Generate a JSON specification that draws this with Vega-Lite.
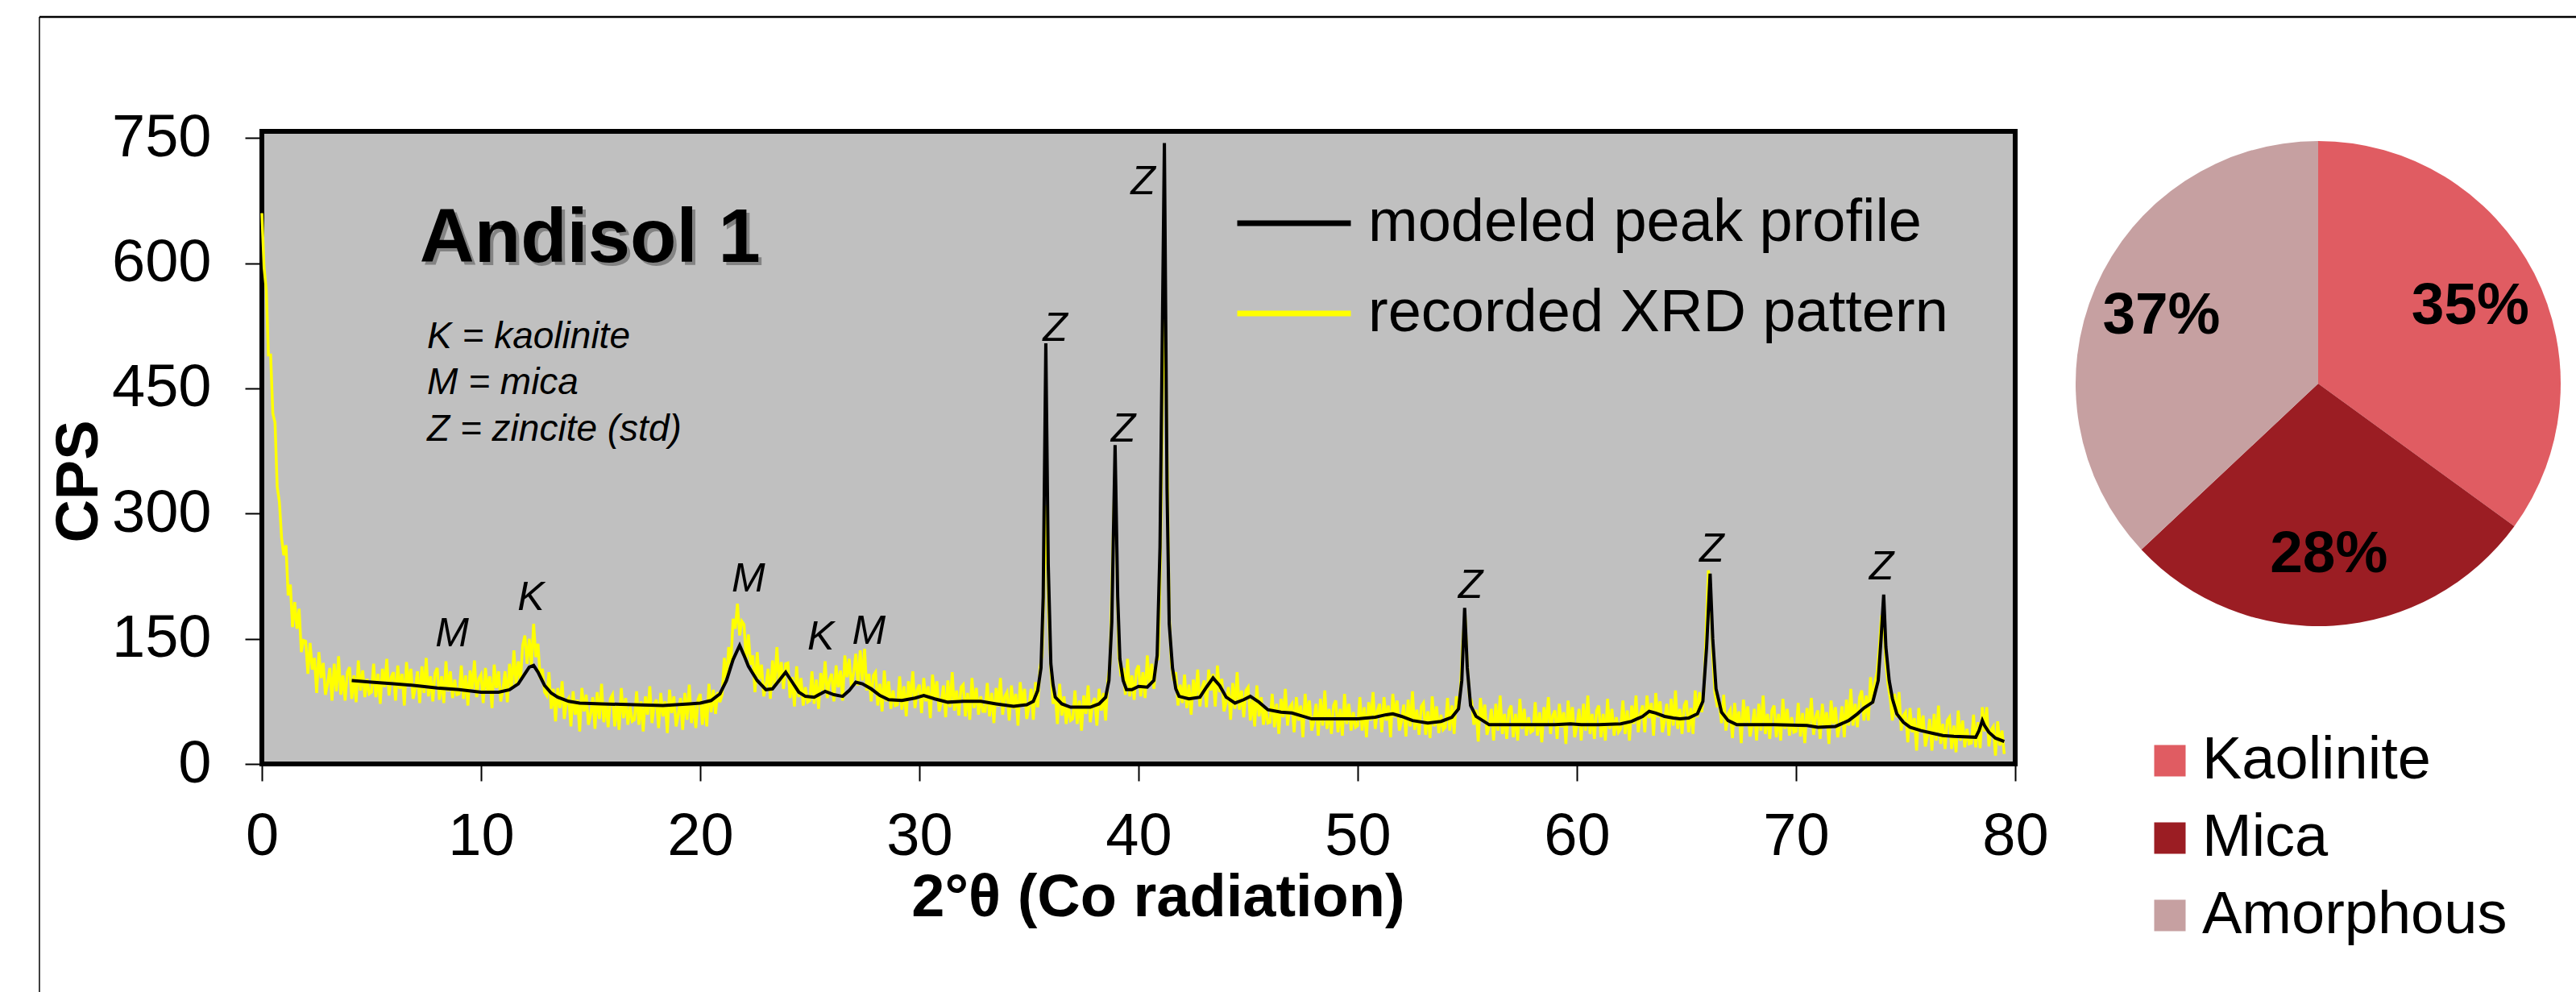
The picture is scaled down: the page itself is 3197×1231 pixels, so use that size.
{
"$schema": "https://vega.github.io/schema/vega-lite/v6.json",
"padding": {"left": 44, "top": 16, "right": 0, "bottom": 0},
"background": "white",
"bounds": "flush",
"spacing": 75,
"config": {
  "font": "Liberation Sans",
  "axis": {"labelFont": "Liberation Sans", "labelFontSize": 74, "labelColor": "black", "tickColor": "black", "tickWidth": 2, "tickSize": 21, "domain": false, "grid": false, "titleFont": "Liberation Sans", "titleFontSize": 74, "titleFontWeight": "bold", "titleColor": "black", "labelOverlap": false, "labelFlush": false},
  "legend": {"labelFont": "Liberation Sans", "labelFontSize": 74, "labelColor": "black", "padding": 0, "labelLimit": 2000}
},
"datasets": {
"recorded": [
{"deg":0.0,"cps":660},{"deg":0.1,"cps":595},{"deg":0.2,"cps":568},{"deg":0.3,"cps":490},{"deg":0.4,"cps":490},{"deg":0.5,"cps":420},{"deg":0.6,"cps":409},{"deg":0.7,"cps":332},{"deg":0.8,"cps":314},{"deg":0.9,"cps":271},
{"deg":1.0,"cps":250},{"deg":1.1,"cps":262},{"deg":1.2,"cps":202},{"deg":1.3,"cps":215},{"deg":1.4,"cps":164},{"deg":1.5,"cps":194},{"deg":1.6,"cps":162},{"deg":1.7,"cps":186},{"deg":1.8,"cps":134},{"deg":1.9,"cps":148},
{"deg":2.0,"cps":147},{"deg":2.1,"cps":108},{"deg":2.2,"cps":145},{"deg":2.3,"cps":113},{"deg":2.4,"cps":127},{"deg":2.5,"cps":85},{"deg":2.6,"cps":134},{"deg":2.7,"cps":103},{"deg":2.8,"cps":121},{"deg":2.9,"cps":83},
{"deg":3.0,"cps":96},{"deg":3.1,"cps":115},{"deg":3.2,"cps":76},{"deg":3.3,"cps":120},{"deg":3.4,"cps":87},{"deg":3.5,"cps":129},{"deg":3.6,"cps":83},{"deg":3.7,"cps":106},{"deg":3.8,"cps":76},{"deg":3.9,"cps":110},
{"deg":4.0,"cps":116},{"deg":4.1,"cps":78},{"deg":4.2,"cps":106},{"deg":4.3,"cps":74},{"deg":4.4,"cps":124},{"deg":4.5,"cps":88},{"deg":4.6,"cps":112},{"deg":4.7,"cps":80},{"deg":4.8,"cps":102},{"deg":4.9,"cps":84},
{"deg":5.0,"cps":86},{"deg":5.1,"cps":120},{"deg":5.2,"cps":80},{"deg":5.3,"cps":108},{"deg":5.4,"cps":72},{"deg":5.5,"cps":114},{"deg":5.6,"cps":92},{"deg":5.7,"cps":126},{"deg":5.8,"cps":82},{"deg":5.9,"cps":104},
{"deg":6.0,"cps":110},{"deg":6.1,"cps":76},{"deg":6.2,"cps":118},{"deg":6.3,"cps":90},{"deg":6.4,"cps":108},{"deg":6.5,"cps":70},{"deg":6.6,"cps":122},{"deg":6.7,"cps":94},{"deg":6.8,"cps":114},{"deg":6.9,"cps":78},
{"deg":7.0,"cps":91},{"deg":7.1,"cps":111},{"deg":7.2,"cps":73},{"deg":7.3,"cps":117},{"deg":7.4,"cps":85},{"deg":7.5,"cps":127},{"deg":7.6,"cps":81},{"deg":7.7,"cps":105},{"deg":7.8,"cps":75},{"deg":7.9,"cps":109},
{"deg":8.0,"cps":115},{"deg":8.1,"cps":77},{"deg":8.2,"cps":105},{"deg":8.3,"cps":73},{"deg":8.4,"cps":123},{"deg":8.5,"cps":87},{"deg":8.6,"cps":111},{"deg":8.7,"cps":79},{"deg":8.8,"cps":101},{"deg":8.9,"cps":83},
{"deg":9.0,"cps":84},{"deg":9.1,"cps":118},{"deg":9.2,"cps":78},{"deg":9.3,"cps":106},{"deg":9.4,"cps":70},{"deg":9.5,"cps":112},{"deg":9.6,"cps":90},{"deg":9.7,"cps":124},{"deg":9.8,"cps":80},{"deg":9.9,"cps":102},
{"deg":10.0,"cps":107},{"deg":10.1,"cps":73},{"deg":10.2,"cps":115},{"deg":10.3,"cps":87},{"deg":10.4,"cps":105},{"deg":10.5,"cps":67},{"deg":10.6,"cps":119},{"deg":10.7,"cps":91},{"deg":10.8,"cps":111},{"deg":10.9,"cps":75},
{"deg":11.0,"cps":90},{"deg":11.1,"cps":111},{"deg":11.2,"cps":74},{"deg":11.3,"cps":120},{"deg":11.4,"cps":91},{"deg":11.5,"cps":136},{"deg":11.6,"cps":94},{"deg":11.7,"cps":123},{"deg":11.8,"cps":100},{"deg":11.9,"cps":142},
{"deg":12.0,"cps":154},{"deg":12.1,"cps":120},{"deg":12.2,"cps":150},{"deg":12.3,"cps":119},{"deg":12.4,"cps":168},{"deg":12.5,"cps":128},{"deg":12.6,"cps":144},{"deg":12.7,"cps":102},{"deg":12.8,"cps":114},{"deg":12.9,"cps":86},
{"deg":13.0,"cps":82},{"deg":13.1,"cps":110},{"deg":13.2,"cps":66},{"deg":13.3,"cps":90},{"deg":13.4,"cps":51},{"deg":13.5,"cps":91},{"deg":13.6,"cps":67},{"deg":13.7,"cps":99},{"deg":13.8,"cps":54},{"deg":13.9,"cps":75},
{"deg":14.0,"cps":79},{"deg":14.1,"cps":45},{"deg":14.2,"cps":87},{"deg":14.3,"cps":59},{"deg":14.4,"cps":77},{"deg":14.5,"cps":39},{"deg":14.6,"cps":91},{"deg":14.7,"cps":63},{"deg":14.8,"cps":83},{"deg":14.9,"cps":47},
{"deg":15.0,"cps":60},{"deg":15.1,"cps":80},{"deg":15.2,"cps":42},{"deg":15.3,"cps":86},{"deg":15.4,"cps":54},{"deg":15.5,"cps":96},{"deg":15.6,"cps":50},{"deg":15.7,"cps":74},{"deg":15.8,"cps":44},{"deg":15.9,"cps":78},
{"deg":16.0,"cps":83},{"deg":16.1,"cps":45},{"deg":16.2,"cps":73},{"deg":16.3,"cps":41},{"deg":16.4,"cps":91},{"deg":16.5,"cps":55},{"deg":16.6,"cps":79},{"deg":16.7,"cps":47},{"deg":16.8,"cps":69},{"deg":16.9,"cps":51},
{"deg":17.0,"cps":53},{"deg":17.1,"cps":87},{"deg":17.2,"cps":47},{"deg":17.3,"cps":75},{"deg":17.4,"cps":39},{"deg":17.5,"cps":81},{"deg":17.6,"cps":59},{"deg":17.7,"cps":93},{"deg":17.8,"cps":49},{"deg":17.9,"cps":71},
{"deg":18.0,"cps":77},{"deg":18.1,"cps":43},{"deg":18.2,"cps":85},{"deg":18.3,"cps":57},{"deg":18.4,"cps":75},{"deg":18.5,"cps":37},{"deg":18.6,"cps":89},{"deg":18.7,"cps":61},{"deg":18.8,"cps":81},{"deg":18.9,"cps":45},
{"deg":19.0,"cps":59},{"deg":19.1,"cps":79},{"deg":19.2,"cps":41},{"deg":19.3,"cps":85},{"deg":19.4,"cps":53},{"deg":19.5,"cps":95},{"deg":19.6,"cps":49},{"deg":19.7,"cps":73},{"deg":19.8,"cps":43},{"deg":19.9,"cps":77},
{"deg":20.0,"cps":84},{"deg":20.1,"cps":47},{"deg":20.2,"cps":76},{"deg":20.3,"cps":45},{"deg":20.4,"cps":96},{"deg":20.5,"cps":62},{"deg":20.6,"cps":89},{"deg":20.7,"cps":60},{"deg":20.8,"cps":86},{"deg":20.9,"cps":74},
{"deg":21.0,"cps":83},{"deg":21.1,"cps":127},{"deg":21.2,"cps":100},{"deg":21.3,"cps":140},{"deg":21.4,"cps":119},{"deg":21.5,"cps":174},{"deg":21.6,"cps":162},{"deg":21.7,"cps":192},{"deg":21.8,"cps":154},{"deg":21.9,"cps":171},
{"deg":22.0,"cps":167},{"deg":22.1,"cps":123},{"deg":22.2,"cps":155},{"deg":22.3,"cps":119},{"deg":22.4,"cps":130},{"deg":22.5,"cps":86},{"deg":22.6,"cps":134},{"deg":22.7,"cps":102},{"deg":22.8,"cps":119},{"deg":22.9,"cps":81},
{"deg":23.0,"cps":94},{"deg":23.1,"cps":114},{"deg":23.2,"cps":78},{"deg":23.3,"cps":124},{"deg":23.4,"cps":95},{"deg":23.5,"cps":140},{"deg":23.6,"cps":97},{"deg":23.7,"cps":122},{"deg":23.8,"cps":90},{"deg":23.9,"cps":120},
{"deg":24.0,"cps":121},{"deg":24.1,"cps":79},{"deg":24.2,"cps":104},{"deg":24.3,"cps":69},{"deg":24.4,"cps":117},{"deg":24.5,"cps":80},{"deg":24.6,"cps":103},{"deg":24.7,"cps":70},{"deg":24.8,"cps":92},{"deg":24.9,"cps":74},
{"deg":25.0,"cps":76},{"deg":25.1,"cps":111},{"deg":25.2,"cps":72},{"deg":25.3,"cps":101},{"deg":25.4,"cps":66},{"deg":25.5,"cps":109},{"deg":25.6,"cps":88},{"deg":25.7,"cps":123},{"deg":25.8,"cps":79},{"deg":25.9,"cps":101},
{"deg":26.0,"cps":108},{"deg":26.1,"cps":75},{"deg":26.2,"cps":118},{"deg":26.3,"cps":92},{"deg":26.4,"cps":112},{"deg":26.5,"cps":76},{"deg":26.6,"cps":130},{"deg":26.7,"cps":104},{"deg":26.8,"cps":126},{"deg":26.9,"cps":92},
{"deg":27.0,"cps":109},{"deg":27.1,"cps":132},{"deg":27.2,"cps":94},{"deg":27.3,"cps":136},{"deg":27.4,"cps":100},{"deg":27.5,"cps":138},{"deg":27.6,"cps":88},{"deg":27.7,"cps":108},{"deg":27.8,"cps":75},{"deg":27.9,"cps":106},
{"deg":28.0,"cps":110},{"deg":28.1,"cps":70},{"deg":28.2,"cps":96},{"deg":28.3,"cps":63},{"deg":28.4,"cps":112},{"deg":28.5,"cps":75},{"deg":28.6,"cps":99},{"deg":28.7,"cps":66},{"deg":28.8,"cps":88},{"deg":28.9,"cps":70},
{"deg":29.0,"cps":71},{"deg":29.1,"cps":105},{"deg":29.2,"cps":65},{"deg":29.3,"cps":93},{"deg":29.4,"cps":57},{"deg":29.5,"cps":99},{"deg":29.6,"cps":77},{"deg":29.7,"cps":111},{"deg":29.8,"cps":67},{"deg":29.9,"cps":89},
{"deg":30.0,"cps":95},{"deg":30.1,"cps":61},{"deg":30.2,"cps":103},{"deg":30.3,"cps":75},{"deg":30.4,"cps":93},{"deg":30.5,"cps":55},{"deg":30.6,"cps":107},{"deg":30.7,"cps":79},{"deg":30.8,"cps":99},{"deg":30.9,"cps":63},
{"deg":31.0,"cps":74},{"deg":31.1,"cps":94},{"deg":31.2,"cps":56},{"deg":31.3,"cps":100},{"deg":31.4,"cps":68},{"deg":31.5,"cps":110},{"deg":31.6,"cps":64},{"deg":31.7,"cps":88},{"deg":31.8,"cps":58},{"deg":31.9,"cps":92},
{"deg":32.0,"cps":95},{"deg":32.1,"cps":57},{"deg":32.2,"cps":85},{"deg":32.3,"cps":53},{"deg":32.4,"cps":103},{"deg":32.5,"cps":67},{"deg":32.6,"cps":91},{"deg":32.7,"cps":59},{"deg":32.8,"cps":81},{"deg":32.9,"cps":63},
{"deg":33.0,"cps":63},{"deg":33.1,"cps":97},{"deg":33.2,"cps":57},{"deg":33.3,"cps":85},{"deg":33.4,"cps":49},{"deg":33.5,"cps":91},{"deg":33.6,"cps":69},{"deg":33.7,"cps":103},{"deg":33.8,"cps":59},{"deg":33.9,"cps":81},
{"deg":34.0,"cps":86},{"deg":34.1,"cps":52},{"deg":34.2,"cps":94},{"deg":34.3,"cps":66},{"deg":34.4,"cps":84},{"deg":34.5,"cps":46},{"deg":34.6,"cps":98},{"deg":34.7,"cps":70},{"deg":34.8,"cps":90},{"deg":34.9,"cps":54},
{"deg":35.0,"cps":69},{"deg":35.1,"cps":90},{"deg":35.2,"cps":53},{"deg":35.3,"cps":98},{"deg":35.4,"cps":68},{"deg":35.5,"cps":115},{"deg":35.6,"cps":130},{"deg":35.7,"cps":230},{"deg":35.8,"cps":310},{"deg":35.9,"cps":180},
{"deg":36.0,"cps":115},{"deg":36.1,"cps":72},{"deg":36.2,"cps":83},{"deg":36.3,"cps":48},{"deg":36.4,"cps":96},{"deg":36.5,"cps":58},{"deg":36.6,"cps":81},{"deg":36.7,"cps":48},{"deg":36.8,"cps":70},{"deg":36.9,"cps":52},
{"deg":37.0,"cps":54},{"deg":37.1,"cps":88},{"deg":37.2,"cps":48},{"deg":37.3,"cps":76},{"deg":37.4,"cps":40},{"deg":37.5,"cps":82},{"deg":37.6,"cps":60},{"deg":37.7,"cps":94},{"deg":37.8,"cps":50},{"deg":37.9,"cps":72},
{"deg":38.0,"cps":79},{"deg":38.1,"cps":46},{"deg":38.2,"cps":90},{"deg":38.3,"cps":64},{"deg":38.4,"cps":85},{"deg":38.5,"cps":52},{"deg":38.6,"cps":100},{"deg":38.7,"cps":120},{"deg":38.8,"cps":230},{"deg":38.9,"cps":330},
{"deg":39.0,"cps":260},{"deg":39.1,"cps":130},{"deg":39.2,"cps":105},{"deg":39.3,"cps":115},{"deg":39.4,"cps":83},{"deg":39.5,"cps":126},{"deg":39.6,"cps":81},{"deg":39.7,"cps":106},{"deg":39.8,"cps":77},{"deg":39.9,"cps":112},
{"deg":40.0,"cps":118},{"deg":40.1,"cps":81},{"deg":40.2,"cps":110},{"deg":40.3,"cps":79},{"deg":40.4,"cps":130},{"deg":40.5,"cps":95},{"deg":40.6,"cps":120},{"deg":40.7,"cps":90},{"deg":40.8,"cps":124},{"deg":40.9,"cps":126},
{"deg":41.0,"cps":250},{"deg":41.1,"cps":450},{"deg":41.2,"cps":565},{"deg":41.3,"cps":380},{"deg":41.4,"cps":180},{"deg":41.5,"cps":120},{"deg":41.6,"cps":100},{"deg":41.7,"cps":110},{"deg":41.8,"cps":70},{"deg":41.9,"cps":95},
{"deg":42.0,"cps":73},{"deg":42.1,"cps":107},{"deg":42.2,"cps":67},{"deg":42.3,"cps":95},{"deg":42.4,"cps":59},{"deg":42.5,"cps":101},{"deg":42.6,"cps":79},{"deg":42.7,"cps":113},{"deg":42.8,"cps":69},{"deg":42.9,"cps":91},
{"deg":43.0,"cps":100},{"deg":43.1,"cps":68},{"deg":43.2,"cps":113},{"deg":43.3,"cps":88},{"deg":43.4,"cps":108},{"deg":43.5,"cps":69},{"deg":43.6,"cps":118},{"deg":43.7,"cps":86},{"deg":43.8,"cps":102},{"deg":43.9,"cps":63},
{"deg":44.0,"cps":74},{"deg":44.1,"cps":92},{"deg":44.2,"cps":53},{"deg":44.3,"cps":97},{"deg":44.4,"cps":66},{"deg":44.5,"cps":110},{"deg":44.6,"cps":65},{"deg":44.7,"cps":88},{"deg":44.8,"cps":56},{"deg":44.9,"cps":88},
{"deg":45.0,"cps":92},{"deg":45.1,"cps":52},{"deg":45.2,"cps":78},{"deg":45.3,"cps":45},{"deg":45.4,"cps":94},{"deg":45.5,"cps":57},{"deg":45.6,"cps":80},{"deg":45.7,"cps":47},{"deg":45.8,"cps":68},{"deg":45.9,"cps":49},
{"deg":46.0,"cps":50},{"deg":46.1,"cps":84},{"deg":46.2,"cps":44},{"deg":46.3,"cps":72},{"deg":46.4,"cps":36},{"deg":46.5,"cps":78},{"deg":46.6,"cps":56},{"deg":46.7,"cps":90},{"deg":46.8,"cps":46},{"deg":46.9,"cps":68},
{"deg":47.0,"cps":72},{"deg":47.1,"cps":38},{"deg":47.2,"cps":80},{"deg":47.3,"cps":52},{"deg":47.4,"cps":70},{"deg":47.5,"cps":32},{"deg":47.6,"cps":84},{"deg":47.7,"cps":56},{"deg":47.8,"cps":76},{"deg":47.9,"cps":40},
{"deg":48.0,"cps":52},{"deg":48.1,"cps":72},{"deg":48.2,"cps":34},{"deg":48.3,"cps":78},{"deg":48.4,"cps":46},{"deg":48.5,"cps":88},{"deg":48.6,"cps":42},{"deg":48.7,"cps":66},{"deg":48.8,"cps":36},{"deg":48.9,"cps":70},
{"deg":49.0,"cps":76},{"deg":49.1,"cps":38},{"deg":49.2,"cps":66},{"deg":49.3,"cps":34},{"deg":49.4,"cps":84},{"deg":49.5,"cps":48},{"deg":49.6,"cps":72},{"deg":49.7,"cps":40},{"deg":49.8,"cps":62},{"deg":49.9,"cps":44},
{"deg":50.0,"cps":46},{"deg":50.1,"cps":80},{"deg":50.2,"cps":40},{"deg":50.3,"cps":68},{"deg":50.4,"cps":32},{"deg":50.5,"cps":74},{"deg":50.6,"cps":52},{"deg":50.7,"cps":86},{"deg":50.8,"cps":42},{"deg":50.9,"cps":64},
{"deg":51.0,"cps":72},{"deg":51.1,"cps":38},{"deg":51.2,"cps":80},{"deg":51.3,"cps":52},{"deg":51.4,"cps":70},{"deg":51.5,"cps":32},{"deg":51.6,"cps":84},{"deg":51.7,"cps":56},{"deg":51.8,"cps":76},{"deg":51.9,"cps":40},
{"deg":52.0,"cps":51},{"deg":52.1,"cps":71},{"deg":52.2,"cps":33},{"deg":52.3,"cps":77},{"deg":52.4,"cps":45},{"deg":52.5,"cps":87},{"deg":52.6,"cps":41},{"deg":52.7,"cps":65},{"deg":52.8,"cps":35},{"deg":52.9,"cps":69},
{"deg":53.0,"cps":73},{"deg":53.1,"cps":35},{"deg":53.2,"cps":63},{"deg":53.3,"cps":31},{"deg":53.4,"cps":81},{"deg":53.5,"cps":45},{"deg":53.6,"cps":69},{"deg":53.7,"cps":37},{"deg":53.8,"cps":59},{"deg":53.9,"cps":41},
{"deg":54.0,"cps":44},{"deg":54.1,"cps":79},{"deg":54.2,"cps":40},{"deg":54.3,"cps":70},{"deg":54.4,"cps":36},{"deg":54.5,"cps":81},{"deg":54.6,"cps":64},{"deg":54.7,"cps":95},{"deg":54.8,"cps":150},{"deg":54.9,"cps":178},
{"deg":55.0,"cps":120},{"deg":55.1,"cps":80},{"deg":55.2,"cps":75},{"deg":55.3,"cps":47},{"deg":55.4,"cps":65},{"deg":55.5,"cps":27},{"deg":55.6,"cps":79},{"deg":55.7,"cps":51},{"deg":55.8,"cps":71},{"deg":55.9,"cps":35},
{"deg":56.0,"cps":46},{"deg":56.1,"cps":66},{"deg":56.2,"cps":28},{"deg":56.3,"cps":72},{"deg":56.4,"cps":40},{"deg":56.5,"cps":82},{"deg":56.6,"cps":36},{"deg":56.7,"cps":60},{"deg":56.8,"cps":30},{"deg":56.9,"cps":64},
{"deg":57.0,"cps":70},{"deg":57.1,"cps":32},{"deg":57.2,"cps":60},{"deg":57.3,"cps":28},{"deg":57.4,"cps":78},{"deg":57.5,"cps":42},{"deg":57.6,"cps":66},{"deg":57.7,"cps":34},{"deg":57.8,"cps":56},{"deg":57.9,"cps":38},
{"deg":58.0,"cps":40},{"deg":58.1,"cps":74},{"deg":58.2,"cps":34},{"deg":58.3,"cps":62},{"deg":58.4,"cps":26},{"deg":58.5,"cps":68},{"deg":58.6,"cps":46},{"deg":58.7,"cps":80},{"deg":58.8,"cps":36},{"deg":58.9,"cps":58},
{"deg":59.0,"cps":64},{"deg":59.1,"cps":30},{"deg":59.2,"cps":72},{"deg":59.3,"cps":44},{"deg":59.4,"cps":62},{"deg":59.5,"cps":24},{"deg":59.6,"cps":76},{"deg":59.7,"cps":48},{"deg":59.8,"cps":68},{"deg":59.9,"cps":32},
{"deg":60.0,"cps":46},{"deg":60.1,"cps":66},{"deg":60.2,"cps":28},{"deg":60.3,"cps":72},{"deg":60.4,"cps":40},{"deg":60.5,"cps":82},{"deg":60.6,"cps":36},{"deg":60.7,"cps":60},{"deg":60.8,"cps":30},{"deg":60.9,"cps":64},
{"deg":61.0,"cps":70},{"deg":61.1,"cps":32},{"deg":61.2,"cps":60},{"deg":61.3,"cps":28},{"deg":61.4,"cps":78},{"deg":61.5,"cps":42},{"deg":61.6,"cps":66},{"deg":61.7,"cps":34},{"deg":61.8,"cps":56},{"deg":61.9,"cps":38},
{"deg":62.0,"cps":42},{"deg":62.1,"cps":76},{"deg":62.2,"cps":36},{"deg":62.3,"cps":64},{"deg":62.4,"cps":28},{"deg":62.5,"cps":70},{"deg":62.6,"cps":48},{"deg":62.7,"cps":82},{"deg":62.8,"cps":38},{"deg":62.9,"cps":60},
{"deg":63.0,"cps":70},{"deg":63.1,"cps":38},{"deg":63.2,"cps":82},{"deg":63.3,"cps":55},{"deg":63.4,"cps":73},{"deg":63.5,"cps":34},{"deg":63.6,"cps":85},{"deg":63.7,"cps":56},{"deg":63.8,"cps":75},{"deg":63.9,"cps":38},
{"deg":64.0,"cps":52},{"deg":64.1,"cps":72},{"deg":64.2,"cps":34},{"deg":64.3,"cps":78},{"deg":64.4,"cps":46},{"deg":64.5,"cps":88},{"deg":64.6,"cps":42},{"deg":64.7,"cps":66},{"deg":64.8,"cps":36},{"deg":64.9,"cps":70},
{"deg":65.0,"cps":76},{"deg":65.1,"cps":38},{"deg":65.2,"cps":67},{"deg":65.3,"cps":36},{"deg":65.4,"cps":88},{"deg":65.5,"cps":56},{"deg":65.6,"cps":86},{"deg":65.7,"cps":62},{"deg":65.8,"cps":90},{"deg":65.9,"cps":160},
{"deg":66.0,"cps":232},{"deg":66.1,"cps":210},{"deg":66.2,"cps":130},{"deg":66.3,"cps":85},{"deg":66.4,"cps":70},{"deg":66.5,"cps":72},{"deg":66.6,"cps":49},{"deg":66.7,"cps":83},{"deg":66.8,"cps":40},{"deg":66.9,"cps":60},
{"deg":67.0,"cps":65},{"deg":67.1,"cps":31},{"deg":67.2,"cps":73},{"deg":67.3,"cps":45},{"deg":67.4,"cps":63},{"deg":67.5,"cps":25},{"deg":67.6,"cps":77},{"deg":67.7,"cps":49},{"deg":67.8,"cps":69},{"deg":67.9,"cps":33},
{"deg":68.0,"cps":46},{"deg":68.1,"cps":66},{"deg":68.2,"cps":28},{"deg":68.3,"cps":72},{"deg":68.4,"cps":40},{"deg":68.5,"cps":82},{"deg":68.6,"cps":36},{"deg":68.7,"cps":60},{"deg":68.8,"cps":30},{"deg":68.9,"cps":64},
{"deg":69.0,"cps":70},{"deg":69.1,"cps":32},{"deg":69.2,"cps":60},{"deg":69.3,"cps":28},{"deg":69.4,"cps":78},{"deg":69.5,"cps":42},{"deg":69.6,"cps":66},{"deg":69.7,"cps":34},{"deg":69.8,"cps":56},{"deg":69.9,"cps":38},
{"deg":70.0,"cps":39},{"deg":70.1,"cps":73},{"deg":70.2,"cps":33},{"deg":70.3,"cps":61},{"deg":70.4,"cps":25},{"deg":70.5,"cps":67},{"deg":70.6,"cps":45},{"deg":70.7,"cps":79},{"deg":70.8,"cps":35},{"deg":70.9,"cps":57},
{"deg":71.0,"cps":64},{"deg":71.1,"cps":30},{"deg":71.2,"cps":72},{"deg":71.3,"cps":44},{"deg":71.4,"cps":62},{"deg":71.5,"cps":24},{"deg":71.6,"cps":76},{"deg":71.7,"cps":48},{"deg":71.8,"cps":68},{"deg":71.9,"cps":32},
{"deg":72.0,"cps":48},{"deg":72.1,"cps":69},{"deg":72.2,"cps":32},{"deg":72.3,"cps":77},{"deg":72.4,"cps":46},{"deg":72.5,"cps":90},{"deg":72.6,"cps":46},{"deg":72.7,"cps":72},{"deg":72.8,"cps":44},{"deg":72.9,"cps":80},
{"deg":73.0,"cps":88},{"deg":73.1,"cps":52},{"deg":73.2,"cps":82},{"deg":73.3,"cps":52},{"deg":73.4,"cps":104},{"deg":73.5,"cps":72},{"deg":73.6,"cps":98},{"deg":73.7,"cps":110},{"deg":73.8,"cps":140},{"deg":73.9,"cps":178},
{"deg":74.0,"cps":172},{"deg":74.1,"cps":120},{"deg":74.2,"cps":95},{"deg":74.3,"cps":78},{"deg":74.4,"cps":52},{"deg":74.5,"cps":84},{"deg":74.6,"cps":56},{"deg":74.7,"cps":86},{"deg":74.8,"cps":40},{"deg":74.9,"cps":58},
{"deg":75.0,"cps":62},{"deg":75.1,"cps":26},{"deg":75.2,"cps":67},{"deg":75.3,"cps":38},{"deg":75.4,"cps":55},{"deg":75.5,"cps":16},{"deg":75.6,"cps":67},{"deg":75.7,"cps":38},{"deg":75.8,"cps":58},{"deg":75.9,"cps":21},
{"deg":76.0,"cps":34},{"deg":76.1,"cps":54},{"deg":76.2,"cps":16},{"deg":76.3,"cps":60},{"deg":76.4,"cps":28},{"deg":76.5,"cps":70},{"deg":76.6,"cps":24},{"deg":76.7,"cps":48},{"deg":76.8,"cps":18},{"deg":76.9,"cps":52},
{"deg":77.0,"cps":56},{"deg":77.1,"cps":18},{"deg":77.2,"cps":46},{"deg":77.3,"cps":14},{"deg":77.4,"cps":64},{"deg":77.5,"cps":28},{"deg":77.6,"cps":52},{"deg":77.7,"cps":20},{"deg":77.8,"cps":42},{"deg":77.9,"cps":24},
{"deg":78.0,"cps":25},{"deg":78.1,"cps":59},{"deg":78.2,"cps":20},{"deg":78.3,"cps":50},{"deg":78.4,"cps":19},{"deg":78.5,"cps":68},{"deg":78.6,"cps":39},{"deg":78.7,"cps":68},{"deg":78.8,"cps":21},{"deg":78.9,"cps":41},
{"deg":79.0,"cps":45},{"deg":79.1,"cps":10},{"deg":79.2,"cps":51},{"deg":79.3,"cps":22},{"deg":79.4,"cps":40},{"deg":79.5,"cps":12}
],
"modeled": [
{"deg":4.1,"cps":100},{"deg":5,"cps":98},{"deg":6,"cps":96},{"deg":7,"cps":94},{"deg":8,"cps":91},{"deg":9,"cps":89},{"deg":10,"cps":86},{"deg":10.8,"cps":86},{"deg":11.3,"cps":89},{"deg":11.7,"cps":96},{"deg":12.0,"cps":108},{"deg":12.2,"cps":116},{"deg":12.4,"cps":118},{"deg":12.6,"cps":110},{"deg":12.9,"cps":94},{"deg":13.2,"cps":85},{"deg":13.5,"cps":80},{"deg":14.0,"cps":75},{"deg":14.5,"cps":73},{"deg":15.5,"cps":72},{"deg":17,"cps":71},{"deg":18.3,"cps":70},{"deg":19.5,"cps":72},{"deg":20.0,"cps":73},{"deg":20.5,"cps":76},{"deg":20.9,"cps":84},{"deg":21.2,"cps":100},{"deg":21.5,"cps":125},{"deg":21.8,"cps":142},{"deg":22.0,"cps":130},{"deg":22.2,"cps":117},{"deg":22.6,"cps":100},{"deg":23.0,"cps":89},{"deg":23.3,"cps":90},{"deg":23.6,"cps":100},{"deg":23.9,"cps":110},{"deg":24.2,"cps":98},{"deg":24.5,"cps":86},{"deg":24.8,"cps":81},{"deg":25.2,"cps":80},{"deg":25.7,"cps":87},{"deg":26.1,"cps":83},{"deg":26.5,"cps":81},{"deg":26.8,"cps":88},{"deg":27.1,"cps":98},{"deg":27.4,"cps":96},{"deg":27.8,"cps":90},{"deg":28.2,"cps":82},{"deg":28.6,"cps":77},{"deg":29.2,"cps":76},{"deg":29.8,"cps":79},{"deg":30.2,"cps":82},{"deg":30.7,"cps":78},{"deg":31.3,"cps":74},{"deg":32.0,"cps":75},{"deg":32.8,"cps":75},{"deg":33.5,"cps":72},{"deg":34.3,"cps":69},{"deg":34.9,"cps":71},{"deg":35.2,"cps":75},{"deg":35.4,"cps":88},{"deg":35.55,"cps":115},{"deg":35.65,"cps":200},{"deg":35.77,"cps":504},{"deg":35.88,"cps":240},{"deg":36.0,"cps":120},{"deg":36.1,"cps":95},{"deg":36.2,"cps":80},{"deg":36.5,"cps":72},{"deg":36.9,"cps":68},{"deg":37.8,"cps":68},{"deg":38.2,"cps":72},{"deg":38.5,"cps":80},{"deg":38.65,"cps":100},{"deg":38.78,"cps":170},{"deg":38.93,"cps":382},{"deg":39.05,"cps":200},{"deg":39.15,"cps":126},{"deg":39.3,"cps":100},{"deg":39.45,"cps":89},{"deg":39.7,"cps":89},{"deg":40.0,"cps":93},{"deg":40.4,"cps":92},{"deg":40.7,"cps":100},{"deg":40.85,"cps":130},{"deg":40.98,"cps":260},{"deg":41.18,"cps":744},{"deg":41.3,"cps":330},{"deg":41.4,"cps":168},{"deg":41.55,"cps":115},{"deg":41.7,"cps":90},{"deg":41.85,"cps":81},{"deg":42.3,"cps":78},{"deg":42.8,"cps":80},{"deg":43.1,"cps":92},{"deg":43.4,"cps":103},{"deg":43.7,"cps":94},{"deg":44.0,"cps":80},{"deg":44.4,"cps":73},{"deg":44.8,"cps":77},{"deg":45.1,"cps":81},{"deg":45.5,"cps":74},{"deg":45.9,"cps":65},{"deg":46.5,"cps":62},{"deg":47.0,"cps":61},{"deg":47.9,"cps":54},{"deg":48.7,"cps":54},{"deg":49.3,"cps":54},{"deg":50.0,"cps":54},{"deg":50.8,"cps":56},{"deg":51.3,"cps":59},{"deg":51.6,"cps":60},{"deg":52.0,"cps":57},{"deg":52.5,"cps":52},{"deg":53.2,"cps":49},{"deg":53.8,"cps":51},{"deg":54.3,"cps":56},{"deg":54.6,"cps":66},{"deg":54.75,"cps":100},{"deg":54.88,"cps":187},{"deg":55.0,"cps":115},{"deg":55.15,"cps":70},{"deg":55.4,"cps":57},{"deg":55.7,"cps":52},{"deg":56.0,"cps":47},{"deg":57,"cps":47},{"deg":58,"cps":47},{"deg":59,"cps":47},{"deg":59.7,"cps":48},{"deg":60.2,"cps":47},{"deg":61,"cps":47},{"deg":62.0,"cps":48},{"deg":62.5,"cps":51},{"deg":63.0,"cps":57},{"deg":63.3,"cps":63},{"deg":63.6,"cps":61},{"deg":64.0,"cps":57},{"deg":64.4,"cps":55},{"deg":64.7,"cps":54},{"deg":65.1,"cps":55},{"deg":65.5,"cps":60},{"deg":65.75,"cps":75},{"deg":65.92,"cps":140},{"deg":66.08,"cps":228},{"deg":66.2,"cps":150},{"deg":66.35,"cps":90},{"deg":66.6,"cps":62},{"deg":66.9,"cps":52},{"deg":67.3,"cps":47},{"deg":68,"cps":47},{"deg":69,"cps":47},{"deg":70.5,"cps":46},{"deg":71.0,"cps":44},{"deg":71.8,"cps":45},{"deg":72.4,"cps":52},{"deg":72.8,"cps":60},{"deg":73.1,"cps":67},{"deg":73.5,"cps":74},{"deg":73.75,"cps":100},{"deg":73.88,"cps":150},{"deg":74.0,"cps":203},{"deg":74.1,"cps":140},{"deg":74.25,"cps":100},{"deg":74.4,"cps":78},{"deg":74.6,"cps":60},{"deg":74.9,"cps":50},{"deg":75.2,"cps":44},{"deg":75.7,"cps":40},{"deg":76.2,"cps":37},{"deg":76.7,"cps":34},{"deg":77.2,"cps":33},{"deg":78.2,"cps":32},{"deg":78.35,"cps":40},{"deg":78.5,"cps":52},{"deg":78.6,"cps":46},{"deg":78.8,"cps":38},{"deg":79.1,"cps":31},{"deg":79.5,"cps":27}
],
"peaks": [
{"label":"M","deg":8.68,"cps":141},{"label":"K","deg":12.28,"cps":184},{"label":"M","deg":22.2,"cps":207},{"label":"K","deg":25.5,"cps":137},{"label":"M","deg":27.7,"cps":144},
{"label":"Z","deg":36.2,"cps":507},{"label":"Z","deg":39.3,"cps":386},{"label":"Z","deg":40.2,"cps":683},{"label":"Z","deg":55.15,"cps":199},{"label":"Z","deg":66.15,"cps":242},{"label":"Z","deg":73.9,"cps":221}
],
"minerals": [
{"mineral":"Kaolinite","share":0.35,"n":1},{"mineral":"Mica","share":0.28,"n":2},{"mineral":"Amorphous","share":0.37,"n":3}
]
},
"hconcat": [
{
  "width": 2176,
  "height": 785,
  "view": {"fill": "#C0C0C0", "stroke": "black", "strokeWidth": 6},
  "layer": [
    {"data": {"name": "recorded"}, "mark": {"type": "line", "strokeWidth": 3.5},
     "encoding": {
       "x": {"field": "deg", "type": "quantitative", "scale": {"domain": [0, 80], "nice": false, "zero": false},
             "axis": {"values": [0,10,20,30,40,50,60,70,80], "labelPadding": 33, "title": "2°θ (Co radiation)", "titleX": 1112, "titleY": 188, "titleAlign": "center", "titleBaseline": "alphabetic", "titleAngle": 0}},
       "y": {"field": "cps", "type": "quantitative", "scale": {"domain": [0, 758], "nice": false},
             "axis": {"values": [0,150,300,450,600,750], "labelPadding": 42, "title": "CPS", "titleAngle": 270, "titleX": -205, "titleY": 434, "titleAlign": "center", "titleBaseline": "alphabetic"}},
       "color": {"datum": "recorded XRD pattern", "type": "nominal",
        "scale": {"domain": ["modeled peak profile", "recorded XRD pattern"], "range": ["#000000", "#FFFF00"]},
        "legend": {"orient": "none", "legendX": 1207, "legendY": 40, "title": null, "symbolType": "stroke", "symbolSize": 19881, "symbolStrokeWidth": 7, "labelOffset": 18, "rowPadding": 1, "labelFontSize": 74}}}},
    {"data": {"name": "modeled"}, "mark": {"type": "line", "strokeWidth": 4},
     "encoding": {"x": {"field": "deg", "type": "quantitative"}, "y": {"field": "cps", "type": "quantitative"}, "color": {"datum": "modeled peak profile", "type": "nominal"}}},
    {"data": {"name": "peaks"}, "mark": {"type": "text", "fontSize": 50, "fontStyle": "italic", "align": "center", "baseline": "alphabetic", "color": "black"},
     "encoding": {"x": {"field": "deg", "type": "quantitative"}, "y": {"field": "cps", "type": "quantitative"}, "text": {"field": "label"}}},
    {"data": {"values": [{}]}, "mark": {"type": "text", "fontSize": 46, "fontStyle": "italic", "align": "left", "baseline": "alphabetic", "color": "black", "lineHeight": 57.5},
     "encoding": {"x": {"datum": 7.54, "type": "quantitative"}, "y": {"datum": 498.3, "type": "quantitative"}, "text": {"value": ["K = kaolinite", "M = mica", "Z = zincite (std)"]}}},
    {"data": {"values": [{}]}, "mark": {"type": "text", "fontSize": 94, "fontWeight": "bold", "align": "left", "baseline": "alphabetic", "color": "#6a6a6a", "opacity": 0.7, "dx": 4, "dy": 4},
     "encoding": {"x": {"datum": 7.2, "type": "quantitative"}, "y": {"datum": 601.6, "type": "quantitative"}, "text": {"value": "Andisol 1"}}},
    {"data": {"values": [{}]}, "mark": {"type": "text", "fontSize": 94, "fontWeight": "bold", "align": "left", "baseline": "alphabetic", "color": "black"},
     "encoding": {"x": {"datum": 7.2, "type": "quantitative"}, "y": {"datum": 601.6, "type": "quantitative"}, "text": {"value": "Andisol 1"}}},
    {"data": {"values": [{}]}, "mark": {"type": "rule", "color": "black", "strokeWidth": 2.5},
     "encoding": {"x": {"datum": -10.15, "type": "quantitative"}, "x2": {"datum": 105.74}, "y": {"datum": 895.1, "type": "quantitative"}}},
    {"data": {"values": [{}]}, "mark": {"type": "rule", "color": "black", "strokeWidth": 1.5},
     "encoding": {"x": {"datum": -10.15, "type": "quantitative"}, "y": {"datum": 895.1, "type": "quantitative"}, "y2": {"datum": -277.1}}}
  ]
},
{
  "width": 602,
  "height": 626,
  "view": {"stroke": null, "fill": null},
  "data": {"name": "minerals"},
  "encoding": {
    "theta": {"field": "share", "type": "quantitative", "stack": true},
    "order": {"field": "n", "type": "quantitative"},
    "color": {"field": "mineral", "type": "nominal",
      "scale": {"domain": ["Kaolinite", "Mica", "Amorphous"], "range": ["#E05C62", "#9B1D23", "#C6A0A1"]},
      "legend": {"orient": "none", "legendX": 80, "legendY": 744, "title": null, "symbolType": "square", "symbolSize": 1521, "symbolStrokeWidth": 0, "labelOffset": 3, "rowPadding": 22, "labelFontSize": 74}}
  },
  "layer": [
    {"mark": {"type": "arc", "radius": 301}},
    {"mark": {"type": "text", "radius": 212, "fontSize": 73, "fontWeight": "bold", "align": "center", "baseline": "middle"},
     "encoding": {"text": {"field": "share", "type": "quantitative", "format": ".0%"}, "color": {"value": "black"}}}
  ]
}
],
"resolve": {"scale": {"color": "independent"}, "legend": {"color": "independent"}}
}
